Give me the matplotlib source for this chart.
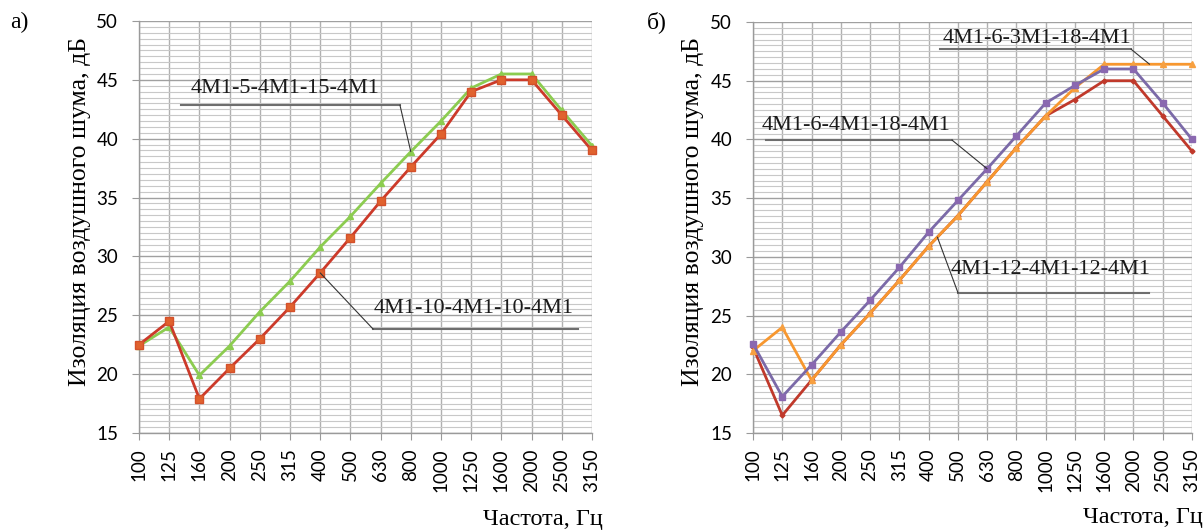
import numpy as np
import matplotlib
matplotlib.use("Agg")
import matplotlib.pyplot as plt
from matplotlib.ticker import MultipleLocator

# ---------------- data ----------------
freqs = ["100", "125", "160", "200", "250", "315", "400", "500", "630", "800",
         "1000", "1250", "1600", "2000", "2500", "3150"]

# panel а)
a_red = [22.5, 24.5, 17.9, 20.5, 23.0, 25.7, 28.6, 31.6, 34.7, 37.6,
         40.4, 44.0, 45.0, 45.0, 42.0, 39.0]          # 4M1-10-4M1-10-4M1
a_green = [22.4, 24.0, 19.9, 22.4, 25.3, 27.9, 30.8, 33.4, 36.2, 38.9,
           41.5, 44.3, 45.5, 45.5, 42.4, 39.4]        # 4M1-5-4M1-15-4M1

# panel б)
b_purple = [22.6, 18.1, 20.8, 23.6, 26.3, 29.1, 32.1, 34.8, 37.5, 40.3,
            43.1, 44.6, 46.0, 46.0, 43.1, 40.0]       # 4M1-6-4M1-18-4M1
b_red = [22.3, 16.5, 19.5, 22.5, 25.2, 28.0, 30.9, 33.5, 36.4, 39.3,
         42.0, 43.4, 45.0, 45.0, 42.0, 39.0]
b_orange = [22.0, 24.0, 19.5, 22.5, 25.2, 28.0, 30.9, 33.5, 36.4, 39.3,
            42.0, 44.4, 46.4, 46.4, 46.4, 46.4]

ylabel = "Изоляция воздушного шума, дБ"
xlabel = "Частота, Гц"

SERIF = ["Liberation Serif", "DejaVu Serif"]
TICKFONT = ["Lato", "DejaVu Sans"]

fig = plt.figure(figsize=(12.03, 5.30), dpi=100)
ax1 = fig.add_axes([139 / 1203, 1 - 433 / 530, 453 / 1203, 412 / 530])
ax2 = fig.add_axes([753 / 1203, 1 - 433 / 530, 439 / 1203, 411 / 530])

x = np.arange(len(freqs))


def style(ax):
    ax.set_xlim(0, len(freqs) - 1)
    ax.set_ylim(15, 50)
    ax.yaxis.set_major_locator(MultipleLocator(5))
    ax.yaxis.set_minor_locator(MultipleLocator(0.5))
    ax.set_xticks(x)
    ax.set_xticklabels(freqs, rotation=90, fontfamily=TICKFONT, fontsize=13.5)
    for lab in ax.get_yticklabels():
        lab.set_fontfamily(TICKFONT)
        lab.set_fontsize(13.5)
    ax.grid(which="minor", axis="y", color="#c8c8c8", lw=0.8)
    ax.grid(which="major", axis="y", color="#a0a0a0", lw=1.0)
    ax.grid(which="major", axis="x", color="#b0b0b0", lw=1.0)
    ax.set_axisbelow(True)
    for s in ["top", "right"]:
        ax.spines[s].set_visible(False)
    for s in ["left", "bottom"]:
        ax.spines[s].set_color("#9a9a9a")
        ax.spines[s].set_linewidth(1.0)
    ax.tick_params(axis="y", which="major", length=5, color="#9a9a9a", pad=10)
    ax.tick_params(axis="y", which="minor", length=0)
    ax.tick_params(axis="x", length=5, color="#9a9a9a", pad=6)
    ax.set_facecolor("white")


style(ax1)
style(ax2)

# panel а) lines
ax1.plot(x, a_green, color="#8ccc50", lw=2.0, marker="^", ms=4.5,
         mfc="#8ccc50", mec="#8ccc50", clip_on=False, zorder=3)
ax1.plot(x, a_red, color="#cc3a2a", lw=2.0, marker="s", ms=5.5,
         mfc="#e0622e", mec="#d4502a", clip_on=False, zorder=4)

# panel б) lines
ax2.plot(x, b_red, color="#c0392b", lw=2.0, marker="D", ms=2.5,
         mfc="#c0392b", mec="#c0392b", clip_on=False, zorder=3)
ax2.plot(x, b_orange, color="#f7972f", lw=2.0, marker="^", ms=5,
         mfc="#f7a040", mec="#f7a040", clip_on=False, zorder=4)
ax2.plot(x, b_purple, color="#7b6aa8", lw=2.0, marker="s", ms=5,
         mfc="#8a68b0", mec="#8a68b0", clip_on=False, zorder=5)


def label(ax, text, tx, ty, ux0, ux1, uy, target, start_left=True):
    ax.text(tx, ty, text, transform=ax.transAxes, ha="center", va="center",
            fontfamily=SERIF, fontsize=16, color="#1a1a1a", zorder=6)
    ax.plot([ux0, ux1], [uy, uy], transform=ax.transAxes, color="#6e6e6e",
            lw=1.5, clip_on=False, zorder=6)
    sx = ux0 if start_left else ux1
    ax.annotate("", xy=target, xycoords="data", xytext=(sx, uy),
                textcoords="axes fraction",
                arrowprops=dict(arrowstyle="-", color="#333333", lw=0.8,
                                shrinkA=0, shrinkB=0), zorder=6)


label(ax1, "4M1-5-4M1-15-4M1", 0.323, 0.837, 0.093, 0.576, 0.796,
      (9, a_green[9]), start_left=False)
label(ax1, "4M1-10-4M1-10-4M1", 0.738, 0.303, 0.517, 0.969, 0.252,
      (6, a_red[6]), start_left=True)

label(ax2, "4M1-6-3M1-18-4M1", 0.648, 0.961, 0.426, 0.861, 0.934,
      (13.55, b_orange[13]), start_left=False)
label(ax2, "4M1-6-4M1-18-4M1", 0.235, 0.749, 0.030, 0.453, 0.713,
      (8, b_purple[8]), start_left=False)
label(ax2, "4M1-12-4M1-12-4M1", 0.679, 0.399, 0.467, 0.902, 0.341,
      (6.3, float(np.interp(6.3, x, b_orange))), start_left=True)

# axis titles
fig.text(80 / 1203, 1 - 212 / 530, ylabel, rotation=90, ha="center",
         va="center", fontfamily=SERIF, fontsize=18.5)
fig.text(693 / 1203, 1 - 212 / 530, ylabel, rotation=90, ha="center",
         va="center", fontfamily=SERIF, fontsize=18.5)
fig.text(603 / 1203, 1 - 520 / 530, xlabel, ha="right", va="center",
         fontfamily=SERIF, fontsize=17.5)
fig.text(1203 / 1203, 1 - 518 / 530, xlabel, ha="right", va="center",
         fontfamily=SERIF, fontsize=17.5)

fig.text(10 / 1203, 1 - 22 / 530, "а)", ha="left", va="center",
         fontfamily=SERIF, fontsize=17)
fig.text(647 / 1203, 1 - 22 / 530, "б)", ha="left", va="center",
         fontfamily=SERIF, fontsize=17)

fig.savefig("out.png", dpi=100, facecolor="white")
